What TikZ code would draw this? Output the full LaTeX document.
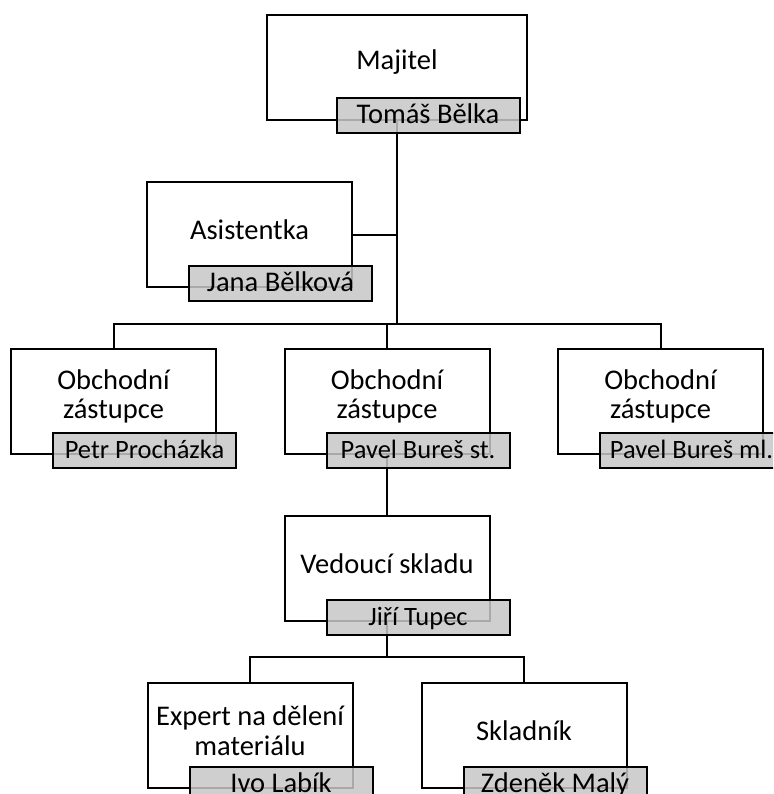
\documentclass[tikz,border=0pt]{standalone}
\usepackage{fontspec}
\setmainfont{Carlito}
\tikzset{
  role/.style={draw, line width=2pt, fill=white, minimum width=205pt, minimum height=105pt, inner sep=0pt},
  title/.style={font=\fontsize{28.5}{29.5}\selectfont, align=center, yshift=5pt},
  person/.style={draw, line width=2pt, fill=black!22, fill opacity=.85, text opacity=1,
    minimum width=183pt, minimum height=35pt, inner sep=0pt, text height=17pt, text depth=1pt,
    font=\fontsize{28.5}{29.5}\selectfont, xshift=31pt, yshift=5pt},
  longname/.style={font=\fontsize{26.5}{27.5}\selectfont},
  link/.style={line width=2pt},
}
\begin{document}
\begin{tikzpicture}[x=1pt,y=-1pt]
\useasboundingbox (0,0) rectangle (773,794);
\clip (0,0) rectangle (773,794);
% positions
\node[role, minimum width=260pt, label={[title]center:Majitel}] (maj) at (397,67.5) {};
\node[role, label={[title]center:Asistentka}] (asst) at (249.5,234.5) {};
\node[role, label={[title]center:Obchodní\\zástupce}] (obchA) at (113.5,401.5) {};
\node[role, label={[title]center:Obchodní\\zástupce}] (obchB) at (387,401.5) {};
\node[role, label={[title]center:Obchodní\\zástupce}] (obchC) at (660.5,401.5) {};
\node[role, label={[title]center:Vedoucí skladu}] (ved) at (387,568.5) {};
\node[role, label={[title]center:Expert na dělení\\materiálu}] (expert) at (250,735.5) {};
\node[role, label={[title]center:Skladník}] (sklad) at (524,735.5) {};
% lines
\coordinate (hubA) at (397,324);
\coordinate (hubB) at (387,657);
\draw[link] (maj.south)--(hubA);
\draw[link] (asst.east)--(asst.east -| hubA);
\draw[link] (obchA.north) |- (hubA);
\draw[link] (obchC.north) |- (hubA);
\draw[link] (obchB.north)--(obchB.north |- hubA);
\draw[link] (obchB.south)--(ved.north);
\draw[link] (ved.south)--(hubB);
\draw[link] (expert.north) |- (hubB);
\draw[link] (sklad.north) |- (hubB);
% names
\node[person] (majN) at (maj.south) {Tomáš Bělka};
\node[person] (asstN) at (asst.south) {Jana Bělková};
\node[person, longname] (obchAN) at (obchA.south) {Petr Procházka};
\node[person, longname] (obchBN) at (obchB.south) {Pavel Bureš st.};
\node[person, longname] (obchCN) at (obchC.south) {Pavel Bureš ml.};
\node[person, longname] (vedN) at (ved.south) {Jiří Tupec};
\node[person] (expertN) at (expert.south) {Ivo Labík};
\node[person] (skladN) at (sklad.south) {Zdeněk Malý};
\end{tikzpicture}
\end{document}
